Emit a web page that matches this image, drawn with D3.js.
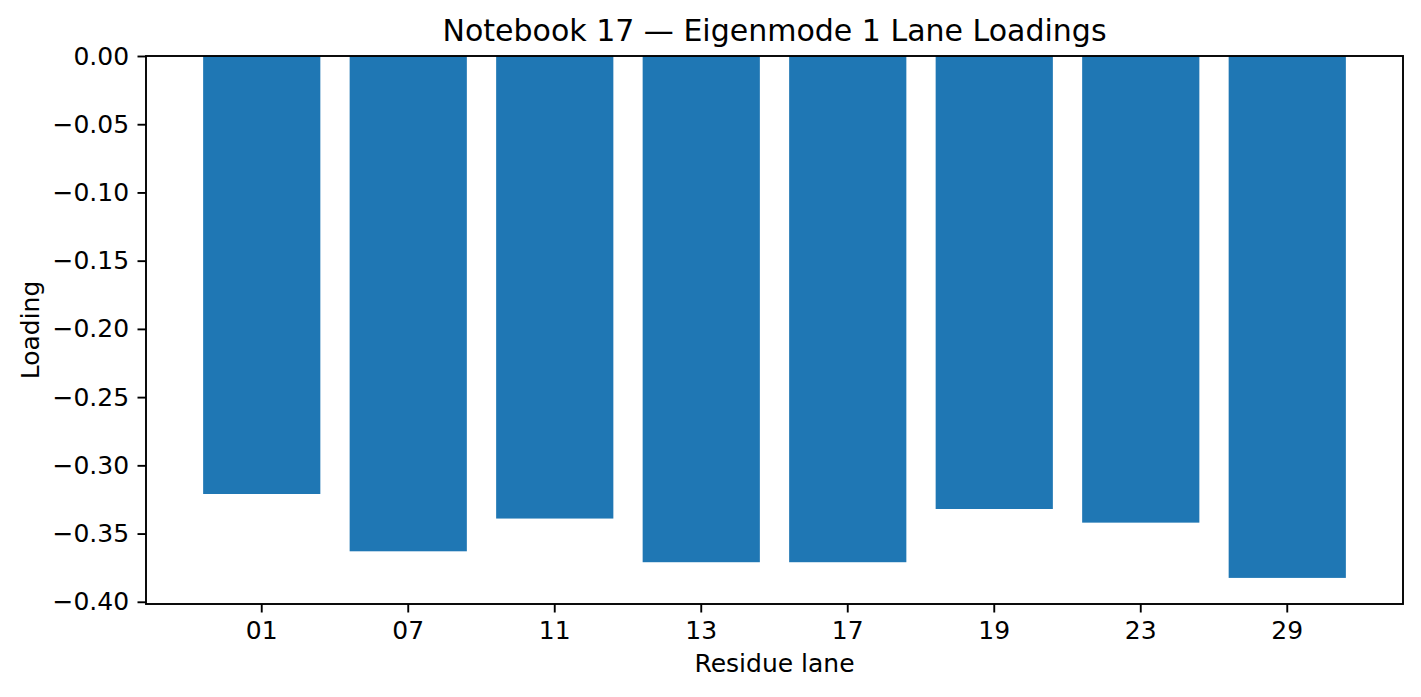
<!DOCTYPE html>
<html>
<head>
<meta charset="utf-8">
<script src="https://cdn.jsdelivr.net/npm/d3@7"></script>
<style>
  body { margin: 0; background: #fff; }
  text { font-family: "DejaVu Sans", sans-serif; fill: #000; }
</style>
</head>
<body>
<svg id="chart" width="1421" height="697"></svg>
<script>
// lanes and their loadings
var lanes = ["01", "07", "11", "13", "17", "19", "23", "29"];
var loadings = [-0.321, -0.363, -0.339, -0.371, -0.371, -0.332, -0.342, -0.3825];
var yTicks = [0, -0.05, -0.10, -0.15, -0.20, -0.25, -0.30, -0.35, -0.40];

var plotL = 146, plotR = 1403, plotT = 56, plotB = 604;
var svg = d3.select("#chart");

var x = d3.scaleBand()
    .domain(lanes)
    .range([plotL, plotR])
    .paddingInner(0.2)
    .paddingOuter(0.39);

var ymin = d3.min(loadings) * 1.05;
var y = d3.scaleLinear()
    .domain([ymin, 0])
    .range([plotB, plotT]);

// bars
svg.append("g").selectAll("rect")
    .data(lanes)
    .enter().append("rect")
    .attr("x", d => x(d))
    .attr("width", x.bandwidth())
    .attr("y", y(0))
    .attr("height", (d, i) => y(loadings[i]) - y(0))
    .attr("fill", "#1f77b4");

// axes
var fmt = d3.format(".2f");
var yAxis = svg.append("g")
    .attr("transform", "translate(" + plotL + ",0)")
    .call(d3.axisLeft(y).tickValues(yTicks)
	  .tickFormat(d => d == 0 ? "0.00" : fmt(d))
	  .tickSize(8.5).tickPadding(8.4).tickSizeOuter(0));
var xAxis = svg.append("g")
    .attr("transform", "translate(0," + plotB + ")")
    .call(d3.axisBottom(x).tickSize(8.5).tickPadding(8.4).tickSizeOuter(0));

[yAxis, xAxis].forEach(function(a){
    a.select(".domain").remove();
    a.selectAll("line").attr("stroke", "#000").attr("stroke-width", 1.9);
    a.selectAll("text")
	.style("font-family", "'DejaVu Sans', sans-serif")
	.style("font-size", "25px")
	.attr("fill", "#000");
});

// frame
svg.append("rect")
    .attr("x", plotL).attr("y", plotT)
    .attr("width", plotR - plotL).attr("height", plotB - plotT)
    .attr("fill", "none")
    .attr("stroke", "#000")
    .attr("stroke-width", 1.9);

// labels
svg.append("text")
    .attr("x", (plotL + plotR) / 2)
    .attr("y", 40.5)
    .attr("text-anchor", "middle")
    .style("font-size", "30px")
    .text("Notebook 17 \u2014 Eigenmode 1 Lane Loadings");

svg.append("text")
    .attr("x", (plotL + plotR) / 2)
    .attr("y", 672)
    .attr("text-anchor", "middle")
    .style("font-size", "25px")
    .text("Residue lane");

svg.append("text")
    .attr("transform", "translate(39," + (plotT + plotB) / 2 + ") rotate(-90)")
    .attr("text-anchor", "middle")
    .style("font-size", "25px")
    .text("Loading");
</script>
</body>
</html>
